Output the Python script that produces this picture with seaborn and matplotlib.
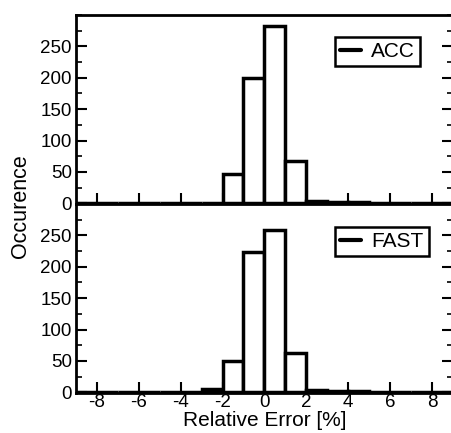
import numpy as np
import pandas as pd
import matplotlib
matplotlib.use("Agg")
import matplotlib.pyplot as plt
from matplotlib.lines import Line2D
from matplotlib.ticker import MultipleLocator
import seaborn as sns

# Bin centres (width 1, from -9 to 9) and counts
bin_centers = [-8.5, -7.5, -6.5, -5.5, -4.5, -3.5, -2.5, -1.5, -0.5, 0.5,
               1.5, 2.5, 3.5, 4.5, 5.5, 6.5, 7.5, 8.5]
acc_counts = [0, 0, 0, 0, 0, 1, 1, 47, 200, 283, 67, 4, 2, 2, 0, 0, 0, 0]
fast_counts = [0, 0, 0, 0, 0, 1, 5, 50, 224, 258, 62, 4, 2, 2, 0, 0, 0, 0]
x_ticks = [-8, -6, -4, -2, 0, 2, 4, 6, 8]
y_ticks = [0, 50, 100, 150, 200, 250]

sns.set_style("ticks")
plt.rcParams['font.family'] = ['Liberation Sans', 'DejaVu Sans']
plt.rcParams['text.color'] = 'black'
plt.rcParams['xtick.color'] = 'black'
plt.rcParams['ytick.color'] = 'black'
plt.rcParams['axes.labelcolor'] = 'black'
plt.rcParams['axes.edgecolor'] = 'black'
plt.rcParams['axes.unicode_minus'] = False

fig = plt.figure(figsize=(4.52, 4.33), dpi=100)
ax_top = fig.add_axes([0.168, 0.529, 0.834, 0.4365])
ax_bot = fig.add_axes([0.168, 0.0924, 0.834, 0.4365], sharex=ax_top)

for ax, counts, label, ly in [(ax_top, acc_counts, "ACC", 0.884),
                              (ax_bot, fast_counts, "FAST", 0.878)]:
    df = pd.DataFrame({"x": bin_centers, "w": [float(c) for c in counts]})
    sns.histplot(data=df, x="x", weights="w", binwidth=1, binrange=(-9, 9), ax=ax,
                 color="white", edgecolor="black", linewidth=2.5, alpha=1)
    ax.set_xlim(-9, 9)
    ax.set_ylim(-1, 300)
    ax.set_xticks(x_ticks)
    ax.set_yticks(y_ticks)
    ax.yaxis.set_minor_locator(MultipleLocator(25))
    ax.tick_params(axis='both', which='major', direction='in', length=8,
                   width=1.5, labelsize=13.5, right=True, top=False, pad=3)
    ax.tick_params(axis='x', which='major', pad=1)
    ax.tick_params(axis='y', which='minor', direction='in', length=4,
                   width=1.2, right=True)
    for sp in ax.spines.values():
        sp.set_linewidth(2)
        sp.set_visible(True)
        sp.set_color("black")
    ax.set_ylabel("")
    ax.set_xlabel("")
    h = Line2D([0], [0], color="black", lw=3)
    leg = ax.legend([h], [label], loc="upper left", bbox_to_anchor=(0.687, ly),
                    fontsize=15, frameon=True, fancybox=False, handlelength=1.0,
                    handletextpad=0.5, borderpad=0.25, borderaxespad=0)
    leg.get_frame().set_edgecolor("black")
    leg.get_frame().set_linewidth(1.8)
    leg.get_frame().set_alpha(1)

ax_top.tick_params(axis='x', labelbottom=False)
ax_bot.set_xlabel("Relative Error [%]", fontsize=15, labelpad=0)
fig.text(0.046, 0.523, "Occurence", rotation=90, fontsize=15.5,
         ha="center", va="center")

fig.savefig("out.png", dpi=100)
